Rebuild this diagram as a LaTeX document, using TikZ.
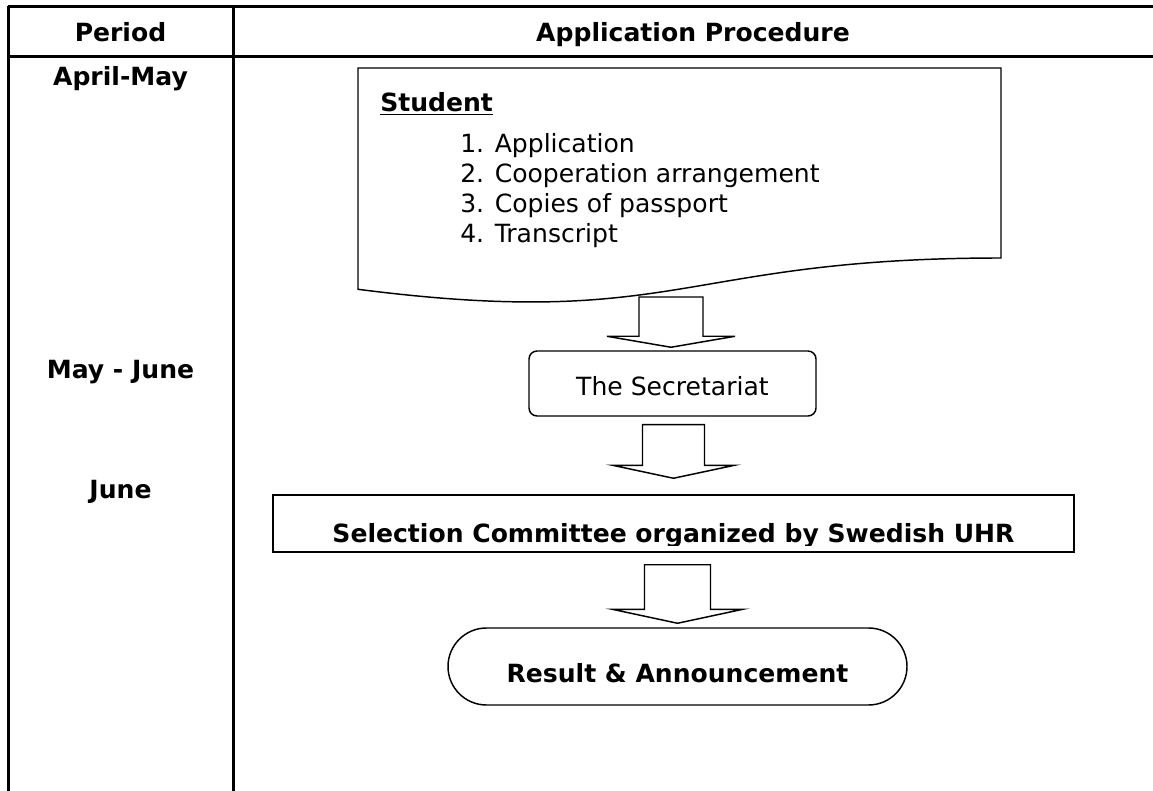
\documentclass[tikz,border=0pt]{standalone}
\usepackage{fontspec}
\setmainfont{DejaVu Sans}
\usepackage{tikz}
\usetikzlibrary{positioning,calc,shapes.misc}
\tikzset{
    tableline/.style={line width=2.25pt},
    boxline/.style={draw=black, line width=1.1pt, fill=white},
    celltext/.style={font=\bfseries\fontsize{18.8}{22}\selectfont, anchor=base, inner sep=0pt},
    itemtext/.style={font=\fontsize{18.8}{22}\selectfont, anchor=base west, inner sep=0pt}
}
% block arrow: #1 top, #2 tip, #3 half shaft, #4 half head, #5 head length
\newcommand{\downblock}[5]{%
    \draw[blockarrow] let \p1=(#1), \p2=(#2) in
        (\x2-#3,\y1) -- (\x2+#3,\y1) -- (\x2+#3,\y2+#5) -- (\x2+#4,\y2+#5)
        -- (\x2,\y2) -- (\x2-#4,\y2+#5) -- (\x2-#3,\y2+#5) -- cycle;}

\begin{document}
\begin{tikzpicture}[x=0.75pt, y=-0.75pt,
                    % Style for the boxes
                    procbox/.style={
                        boxline,
                        inner sep=0pt
                    },
                    % Style for the big arrows
                    blockarrow/.style={
                        boxline,
                        line join=miter
                    }
                ]
    \useasboundingbox (0,0) rectangle (1153,791);

    % --- TABLE ---
    \draw[tableline] (8,7) -- (1153,7);
    \draw[tableline] (8,57) -- (1153,57);
    \draw[tableline] (8,6) -- (8,791);
    \draw[tableline] (233,6) -- (233,791);

    \node[celltext] (period) at (120.5,42) {Period};
    \node[celltext] (procedure) at (693,42) {Application Procedure};
    \node[celltext] (aprmay) at (120.5,86) {April-May};
    \node[celltext] (mayjune) at (120.5,379) {May - June};
    \node[celltext] (june) at (120.5,498) {June};

    % --- STUDENT (document box) ---
    \draw[boxline] (358,289.3) -- (358,68) -- (1001,68) -- (1001,258)
        .. controls (679.5,258) and (679.5,330.5) .. (358,289.3) -- cycle;
    \node[itemtext, font=\bfseries\fontsize{18.8}{22}\selectfont] (student) at (380,112) {\underline{Student}};
    \foreach \txt [count=\i] in {Application, Cooperation arrangement, Copies of passport, Transcript}
        \node[itemtext] (item\i) at (460,123+30*\i) {\i. \txt};
    \coordinate (wave) at (671,297);

    % --- STEPS ---
    \node[procbox, rounded corners=6pt, minimum width=287*0.75pt, minimum height=65*0.75pt] (secr) at (672.5,383.5) {};
    \node[itemtext, anchor=base] (secrtext) at (672.5,396) {The Secretariat};

    \node[procbox, minimum width=801*0.75pt, minimum height=57*0.75pt] (select) at (673.5,523.5) {};
    \begin{scope}
        \clip (273,495) rectangle (1074,545.5);
        \node[celltext] (selecttext) at (673.5,542) {Selection Committee organized by Swedish UHR};
    \end{scope}

    \node[procbox, rounded rectangle, minimum width=459*0.75pt, minimum height=77*0.75pt] (result) at (677.5,666.5) {};
    \node[celltext] (resulttext) at (677.5,682) {Result \& Announcement};

    % --- ARROWS ---
    \downblock{wave}{$(secr.north)+(-1.5,-3)$}{24pt}{48pt}{8.25pt}
    \downblock{$(secr.south)+(0,8)$}{$(select.north)+(0,-16)$}{23.25pt}{45.75pt}{9.75pt}
    \downblock{$(select.south)+(0,12)$}{$(result.north)+(0,-4)$}{24.75pt}{49pt}{10.5pt}
\end{tikzpicture}
\end{document}
